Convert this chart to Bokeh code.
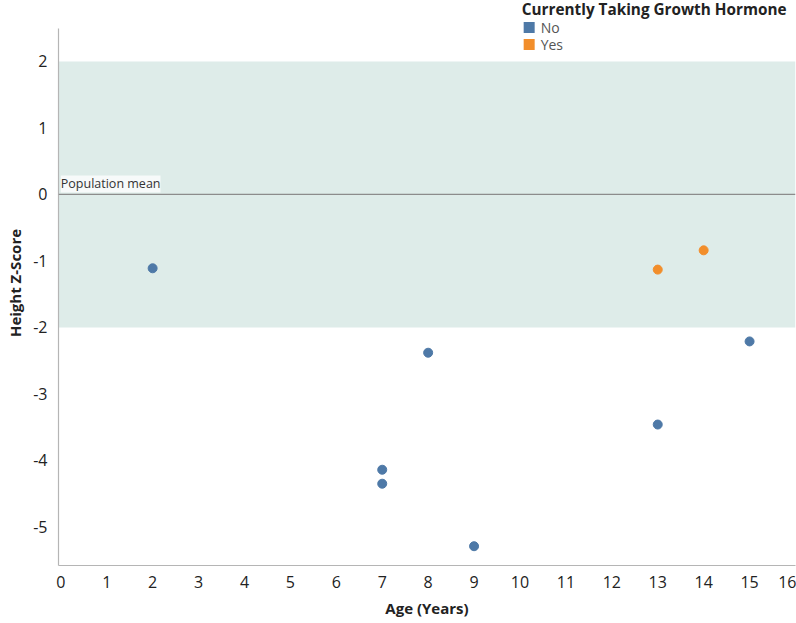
from bokeh.plotting import figure
from bokeh.models import BoxAnnotation, Span, Label, FixedTicker, Range1d
from bokeh.embed import file_html
from bokeh.resources import INLINE

# Height z-scores by age, split by growth-hormone treatment
no_age = [2, 7, 7, 8, 9, 13, 15]
no_z = [-1.11, -4.14, -4.35, -2.38, -5.29, -3.46, -2.21]
yes_age = [13, 14]
yes_z = [-1.13, -0.84]

x_ticks = list(range(0, 17))
y_ticks = [-5, -4, -3, -2, -1, 0, 1, 2]

legend_title = "Currently Taking Growth Hormone"
legend_labels = ["No", "Yes"]

BLUE = "#4e79a7"
ORANGE = "#f28e2b"
FONT = "Open Sans"

Y_TOP = 2.5
Y_BOTTOM = -5.58

# the frame reaches the top of the canvas so the legend can sit above the axis
p = figure(width=796, height=623, output_backend="svg", toolbar_location=None,
           x_range=Range1d(-0.05, 16.0), y_range=Range1d(Y_BOTTOM, 2.917),
           min_border_left=58, min_border_right=1, min_border_top=0,
           min_border_bottom=58)
p.outline_line_color = None
p.grid.grid_line_color = None
p.background_fill_color = "white"

# normal range band and population mean
p.add_layout(BoxAnnotation(bottom=-2, top=2, fill_color="#deece9",
                           fill_alpha=1.0, line_color=None, level="underlay"))
p.add_layout(Span(location=0, dimension="width", line_color="#8c8c8c",
                  line_width=1.2))
p.add_layout(Label(x=0.0, y=0, y_offset=2, text="Population mean",
                   text_font=FONT, text_font_size="12.5px", text_color="#333333",
                   text_baseline="bottom", background_fill_color="white",
                   background_fill_alpha=0.75))

p.scatter(no_age, no_z, size=9, color=BLUE, line_color=BLUE)
p.scatter(yes_age, yes_z, size=9, color=ORANGE, line_color=ORANGE)

# legend, top right
p.add_layout(Label(x=10.04, y=2.782, text=legend_title, text_font=FONT,
                   text_font_size="15.3px", text_font_style="bold",
                   text_color="#222222", text_baseline="middle"))
sw_y = [2.511, 2.256]
p.scatter([10.20, 10.20], sw_y, marker="square", size=11,
          color=[BLUE, ORANGE], line_color=None)
for lab, yy in zip(legend_labels, sw_y):
    p.add_layout(Label(x=10.45, y=yy, text=lab, text_font=FONT,
                       text_font_size="14px", text_color="#555555",
                       text_baseline="middle"))

for ax in (p.xaxis[0], p.yaxis[0]):
    ax.axis_line_color = "#b5b5b5"
    ax.axis_line_width = 1.2
    ax.major_tick_line_color = None
    ax.minor_tick_line_color = None
    ax.major_label_text_font = FONT
    ax.major_label_text_font_size = "16px"
    ax.major_label_text_color = "#222222"
    ax.axis_label_text_font = FONT
    ax.axis_label_text_font_style = "bold"
    ax.axis_label_text_font_size = "15px"
    ax.axis_label_text_color = "#222222"

p.xaxis.ticker = FixedTicker(ticks=x_ticks)
p.yaxis.ticker = FixedTicker(ticks=y_ticks)
p.yaxis.major_label_overrides = {t: str(t) for t in y_ticks}
p.yaxis.bounds = (Y_BOTTOM, Y_TOP)
p.xaxis.axis_label = "Age (Years)"
p.yaxis.axis_label = "Height Z-Score"
p.xaxis.major_label_standoff = 4
p.yaxis.major_label_standoff = 5
p.xaxis.axis_label_standoff = 7
p.yaxis.axis_label_standoff = 5

open("out.html", "w").write(file_html(p, INLINE))
